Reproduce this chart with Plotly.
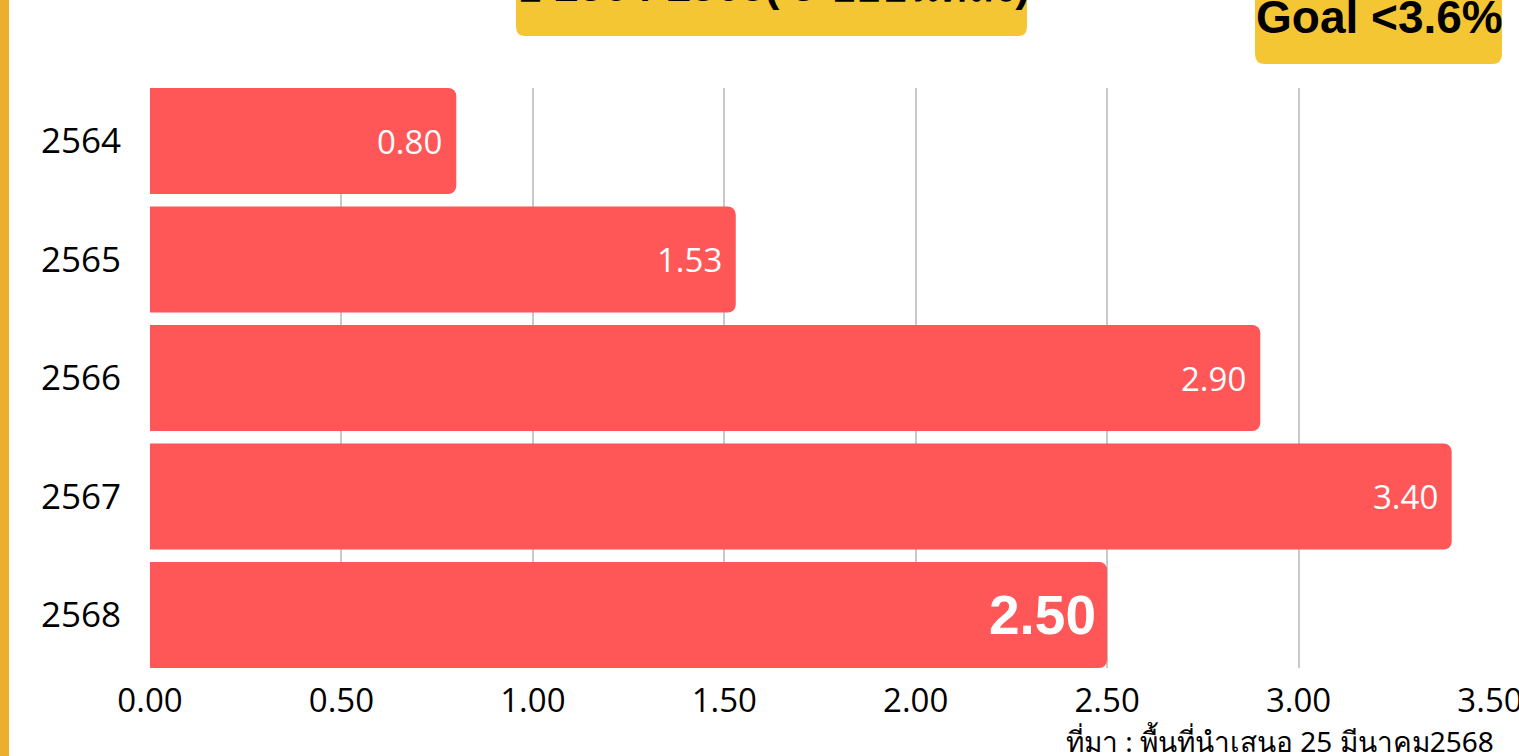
import plotly.graph_objects as go

years = ["2564", "2565", "2566", "2567", "2568"]
values = [0.80, 1.53, 2.90, 3.40, 2.50]
x_ticks = [0.0, 0.5, 1.0, 1.5, 2.0, 2.5, 3.0, 3.5]
x_tick_labels = ["0.00", "0.50", "1.00", "1.50", "2.00", "2.50", "3.00", "3.50"]
title_text = "ปี 2564-2568( 5 ปีย้อนหลัง)"
goal_text = "Goal <3.6%"
source_text = "ที่มา : พื้นที่นำเสนอ 25 มีนาคม2568"

W, H = 1519, 756
L, R, T, B = 150, 29, 88, 88
PW, PH = W - L - R, H - T - B

def px(x):
    return (x - L) / PW

def py(y):
    return (H - B - y) / PH

def rounded_rect(x0, y0, x1, y1, r):
    pts = [
        f"M {px(x0 + r)},{py(y0)}",
        f"L {px(x1 - r)},{py(y0)}",
        f"Q {px(x1)},{py(y0)} {px(x1)},{py(y0 + r)}",
        f"L {px(x1)},{py(y1 - r)}",
        f"Q {px(x1)},{py(y1)} {px(x1 - r)},{py(y1)}",
        f"L {px(x0 + r)},{py(y1)}",
        f"Q {px(x0)},{py(y1)} {px(x0)},{py(y1 - r)}",
        f"L {px(x0)},{py(y0 + r)}",
        f"Q {px(x0)},{py(y0)} {px(x0 + r)},{py(y0)}",
        "Z",
    ]
    return " ".join(pts)

BAR = "#FF5757"
YELLOW = "#F4C634"

fig = go.Figure()
fig.add_trace(go.Bar(
    y=years, x=values, orientation="h",
    marker=dict(color=BAR, line=dict(width=0)),
    hoverinfo="skip",
))

annotations = []
for i, v in enumerate(values):
    last = i == len(values) - 1
    annotations.append(dict(
        x=v, y=i, xref="x", yref="y",
        text=f"<b>{v:.2f}</b>" if last else f"{v:.2f}",
        showarrow=False, xanchor="right", yanchor="middle",
        xshift=-9 if last else -12,
        font=dict(family="Liberation Sans" if last else "Open Sans",
                  size=55 if last else 33, color="white"),
    ))

annotations.append(dict(
    x=px(771), y=py(-15), xref="paper", yref="paper",
    text=f"<b>{title_text}</b>", showarrow=False,
    xanchor="center", yanchor="middle",
    font=dict(family="Liberation Sans, Noto Sans", size=44, color="black"),
))
annotations.append(dict(
    x=px(1379), y=py(17), xref="paper", yref="paper",
    text=f"<b>{goal_text}</b>", showarrow=False,
    xanchor="center", yanchor="middle",
    font=dict(family="Liberation Sans", size=46, color="black"),
))
annotations.append(dict(
    x=px(1496), y=py(741), xref="paper", yref="paper",
    text=source_text, showarrow=False,
    xanchor="right", yanchor="middle",
    font=dict(family="Noto Sans", size=28, color="black"),
))

shapes = [
    dict(type="rect", xref="paper", yref="paper",
         x0=px(0), x1=px(9), y0=py(H), y1=py(0),
         fillcolor="#EDAE2E", line=dict(width=0), layer="below"),
    dict(type="path", xref="paper", yref="paper",
         path=rounded_rect(516, -20, 1027, 36, 9),
         fillcolor=YELLOW, line=dict(width=0), layer="below"),
    dict(type="path", xref="paper", yref="paper",
         path=rounded_rect(1255, -20, 1502, 64, 10),
         fillcolor=YELLOW, line=dict(width=0), layer="below"),
]

fig.update_layout(
    width=W, height=H,
    margin=dict(l=L, r=R, t=T, b=B, pad=0, autoexpand=False),
    paper_bgcolor="white", plot_bgcolor="white",
    showlegend=False,
    bargap=0.1055,
    barcornerradius=8,
    annotations=annotations,
    shapes=shapes,
    xaxis=dict(
        range=[0, 3.5], tickvals=x_ticks, ticktext=x_tick_labels,
        showgrid=True, gridcolor="#C9C9C9", gridwidth=1.5,
        zeroline=False, showline=False, ticks="",
        tickfont=dict(family="Open Sans", size=33, color="black"),
        ticklabelstandoff=10, ticklabeloverflow="allow",
        automargin=False,
    ),
    yaxis=dict(
        type="category", categoryorder="array", categoryarray=years,
        range=[4.4473, -0.4473],
        showgrid=False, zeroline=False, showline=False, ticks="",
        tickfont=dict(family="Open Sans", size=35, color="black"),
        ticklabelstandoff=28, automargin=False,
    ),
)

fig.write_html("out.html")
